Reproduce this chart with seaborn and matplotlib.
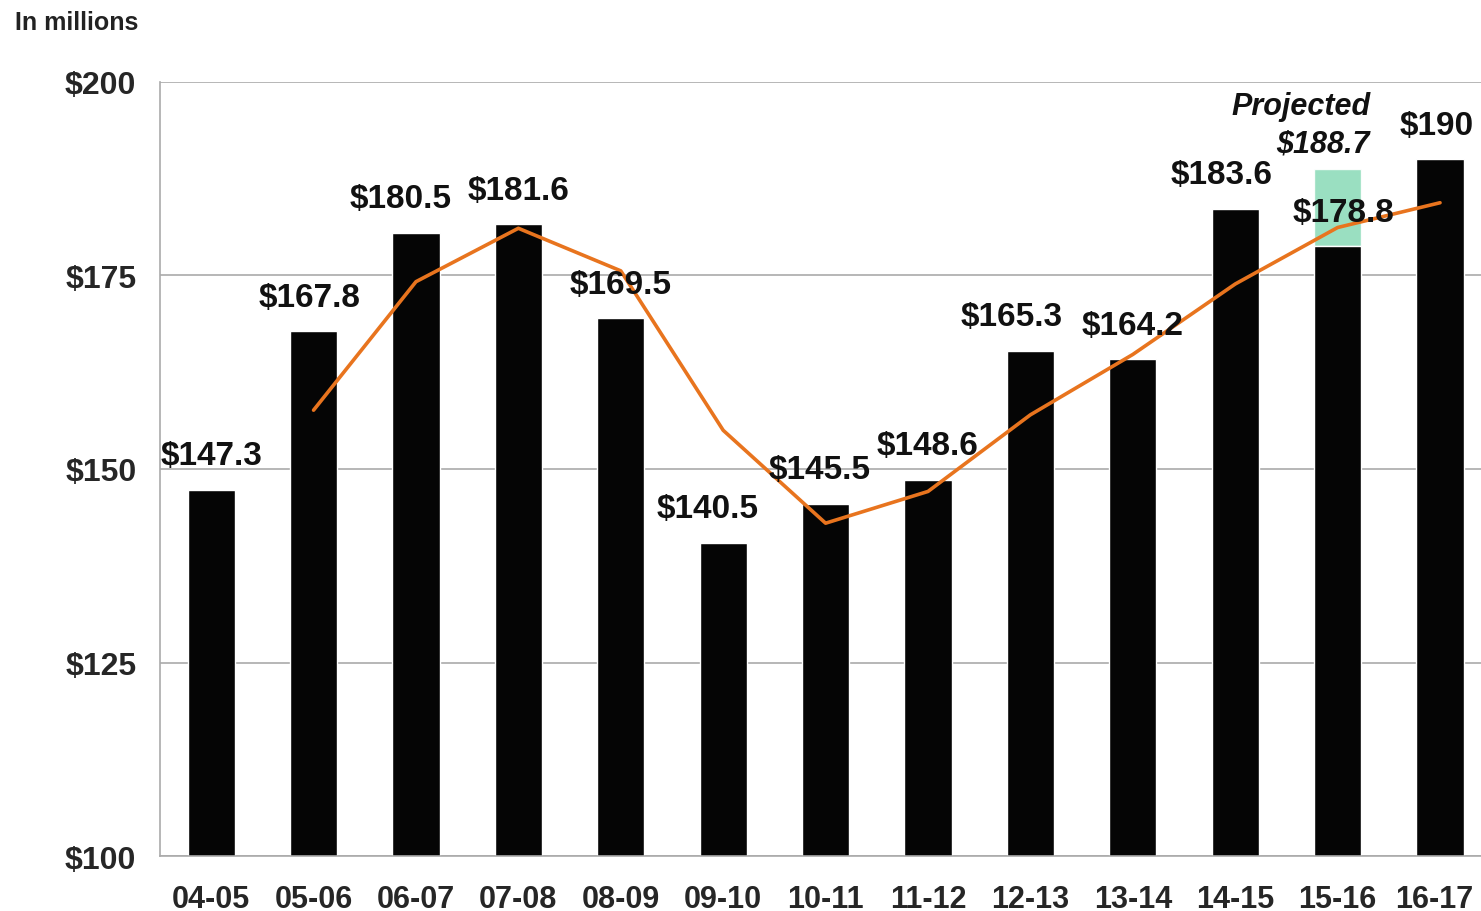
import numpy as np
import pandas as pd
import matplotlib
matplotlib.use("Agg")
import matplotlib.pyplot as plt
import matplotlib.transforms as mtransforms
import seaborn as sns

# ---------------- data ----------------
years = ["04-05", "05-06", "06-07", "07-08", "08-09", "09-10", "10-11",
         "11-12", "12-13", "13-14", "14-15", "15-16", "16-17"]
revenue = [147.3, 167.8, 180.5, 181.6, 169.5, 140.5, 145.5,
           148.6, 165.3, 164.2, 183.6, 178.8, 190.0]
value_labels = ["$147.3", "$167.8", "$180.5", "$181.6", "$169.5", "$140.5", "$145.5",
                "$148.6", "$165.3", "$164.2", "$183.6", "$178.8", "$190"]
# orange trend line (starts at 05-06)
trend_years = ["05-06", "06-07", "07-08", "08-09", "09-10", "10-11",
               "11-12", "12-13", "13-14", "14-15", "15-16", "16-17"]
trend = [157.6, 174.2, 181.1, 175.6, 155.0, 143.0,
         147.1, 157.0, 164.8, 173.9, 181.2, 184.4]
projected_year = "15-16"
projected_value = 188.7
yticks = [100, 125, 150, 175, 200]

# label x nudges (in category units)
label_dx = [0, -0.04, -0.15, 0, 0, -0.15, -0.06, 0, -0.18, 0, -0.13, 0.06, -0.03]

df = pd.DataFrame({"year": years, "revenue": revenue})

sns.set_style("white")
plt.rcParams["font.family"] = ["Liberation Sans", "DejaVu Sans"]

fig = plt.figure(figsize=(14.81, 9.12), dpi=100)
ax = fig.add_axes([0.108, 0.0603, 0.892, 0.8487])

sns.barplot(data=df, x="year", y="revenue", color="#050505", width=0.46,
            saturation=1, ax=ax, zorder=2)

# projected box on 15-16
pi = years.index(projected_year)
ax.bar(pi, projected_value - revenue[pi], bottom=revenue[pi], width=0.46,
       color="#8fdcbb", alpha=0.9, zorder=1.5)

# trend line
tx = [years.index(t) for t in trend_years]
ax.plot(tx, trend, color="#e8741e", lw=2.6, zorder=4)

# value labels
for i, (v, lab) in enumerate(zip(revenue, value_labels)):
    ax.text(i + label_dx[i], v + 4.4, lab, ha="center", va="center",
            fontsize=24, fontweight="bold", color="#111111", zorder=5)

ax.text(pi - 0.36, 196.9, "Projected", ha="center", va="center", fontsize=22,
        fontweight="bold", fontstyle="italic", color="#111111")
ax.text(pi - 0.14, 192.0, "$188.7", ha="center", va="center", fontsize=22,
        fontweight="bold", fontstyle="italic", color="#111111")

ax.set_ylim(100, 200)
ax.set_xlim(-0.5, 12.4)
ax.set_yticks(yticks)
ax.set_yticklabels([f"${t}" for t in yticks], fontsize=23, fontweight="bold")
ax.set_xticks(range(len(years)))
ax.set_xticklabels(years, fontsize=22, fontweight="bold")
ax.set_xlabel("")
ax.set_ylabel("")
ax.tick_params(axis="y", length=0, pad=17)
ax.tick_params(axis="x", length=0, pad=20)
ax.set_xticks(np.arange(0.5, 12.5, 1), minor=True)
ax.tick_params(axis="x", which="minor", length=6, color="#bbbbbb", direction="out")

# last tick label sits against the figure edge, nudge it left a little
last = ax.get_xticklabels()[-1]
last.set_transform(last.get_transform() +
                   mtransforms.ScaledTranslation(-6 / 100, 0, fig.dpi_scale_trans))

ax.yaxis.grid(True, color="#aaaaaa", lw=1.2, zorder=0)
ax.set_axisbelow(True)
for s in ["top", "right"]:
    ax.spines[s].set_visible(False)
ax.spines["left"].set_color("#aaaaaa")
ax.spines["bottom"].set_color("#aaaaaa")
ax.spines["left"].set_linewidth(1.2)
ax.spines["bottom"].set_linewidth(1.2)

fig.text(0.010, 0.975, "In millions", fontsize=18, fontweight="bold",
         color="#222222", ha="left", va="center")

fig.savefig("out.png", dpi=100)
